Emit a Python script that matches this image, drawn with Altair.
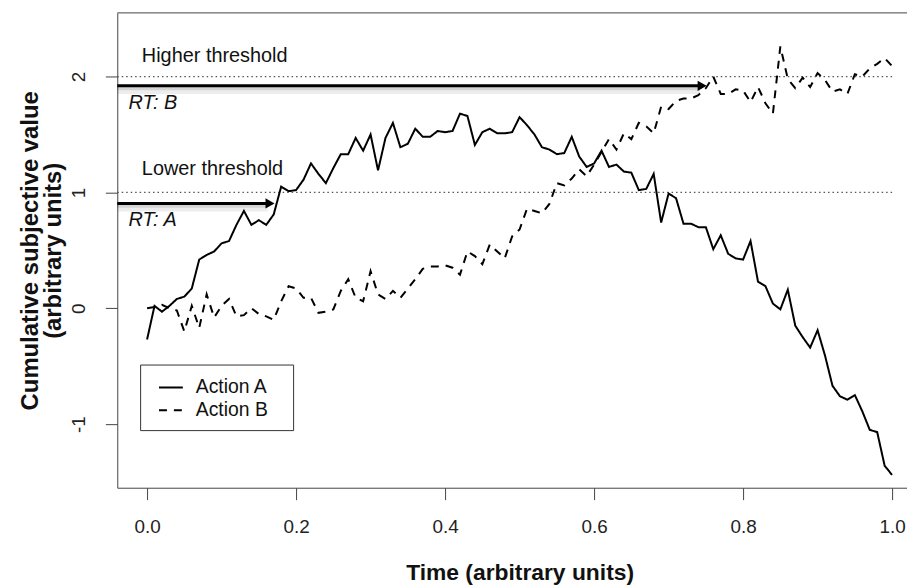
import altair as alt
import pandas as pd

# ---------------- data ----------------
time = [round(i / 100, 2) for i in range(101)]

action_a = [
    -0.27, 0.02, -0.03, 0.02, 0.08, 0.10, 0.17, 0.42, 0.46, 0.49,
    0.56, 0.58, 0.72, 0.84, 0.72, 0.76, 0.72, 0.81, 1.05, 1.01,
    1.02, 1.11, 1.25, 1.16, 1.08, 1.21, 1.33, 1.33, 1.47, 1.36,
    1.50, 1.19, 1.47, 1.60, 1.39, 1.42, 1.55, 1.48, 1.48, 1.53,
    1.52, 1.53, 1.68, 1.66, 1.41, 1.52, 1.55, 1.51, 1.51, 1.52,
    1.65, 1.58, 1.50, 1.39, 1.37, 1.33, 1.34, 1.48, 1.31, 1.22,
    1.25, 1.36, 1.22, 1.24, 1.18, 1.17, 1.02, 1.03, 1.16, 0.74,
    0.99, 0.95, 0.73, 0.73, 0.70, 0.70, 0.51, 0.63, 0.47, 0.43,
    0.42, 0.58, 0.23, 0.19, 0.04, -0.01, 0.16, -0.15, -0.25, -0.34,
    -0.19, -0.41, -0.67, -0.76, -0.79, -0.75, -0.89, -1.05, -1.07, -1.36,
    -1.44,
]

action_b = [
    0.00, 0.01, 0.03, 0.00, -0.02, -0.20, 0.02, -0.17, 0.12, -0.08,
    0.02, 0.08, -0.07, -0.06, 0.00, -0.05, -0.07, -0.10, 0.06, 0.19,
    0.17, 0.09, 0.09, -0.04, -0.03, -0.01, 0.15, 0.25, 0.09, 0.06,
    0.32, 0.12, 0.08, 0.15, 0.09, 0.17, 0.25, 0.34, 0.36, 0.36,
    0.37, 0.35, 0.29, 0.49, 0.45, 0.38, 0.55, 0.49, 0.43, 0.62,
    0.68, 0.86, 0.84, 0.82, 0.90, 1.08, 1.06, 1.12, 1.20, 1.14,
    1.24, 1.35, 1.46, 1.37, 1.51, 1.46, 1.60, 1.57, 1.51, 1.74,
    1.72, 1.79, 1.81, 1.81, 1.84, 1.90, 2.00, 1.85, 1.85, 1.89,
    1.88, 1.78, 1.91, 1.77, 1.68, 2.26, 1.98, 1.90, 1.99, 1.91,
    2.03, 1.97, 1.87, 1.89, 1.85, 2.02, 2.00, 2.07, 2.11, 2.16,
    2.09,
]

series_names = ["Action A", "Action B"]

thresholds = [2, 1]
threshold_labels = ["Higher threshold", "Lower threshold"]
threshold_label_y = [2.18, 1.20]

rt_labels = ["RT: B", "RT: A"]
rt_label_y = [1.77, 0.76]
arrow_y = [1.92, 0.905]
arrow_end = [0.752, 0.172]

x_ticks = [0.0, 0.2, 0.4, 0.6, 0.8, 1.0]
y_ticks = [-1, 0, 1, 2]

# ---------------- layout / style ----------------
X_DOMAIN = [-0.04, 1.02]
Y_DOMAIN = [-1.55, 2.55]
W, H = 795, 478
FONT = "Liberation Sans"
INK = "#111111"
FRAME = "#444444"

lines_df = pd.DataFrame({
    "t": time + time,
    "v": action_a + action_b,
    "series": [series_names[0]] * len(time) + [series_names[1]] * len(time),
})
thr_df = pd.DataFrame({"y": thresholds, "label": threshold_labels,
                       "ly": threshold_label_y, "x0": [X_DOMAIN[0]] * 2, "x1": [1.0, 1.0]})
rt_df = pd.DataFrame({"label": rt_labels, "ly": rt_label_y, "y": arrow_y,
                      "xend": arrow_end, "x0": [X_DOMAIN[0]] * 2})

xs = alt.Scale(domain=X_DOMAIN, nice=False, zero=False)
ys = alt.Scale(domain=Y_DOMAIN, nice=False, zero=False)

x_axis = alt.Axis(
    values=x_ticks, format=".1f", title="Time (arbitrary units)",
    grid=False, domainColor=FRAME, tickColor=FRAME, tickSize=12,
    labelFont=FONT, labelFontSize=19, labelColor="#222222",
    labelPadding=27, labelBaseline="middle",
    titleFont=FONT, titleFontSize=23, titleFontWeight="bold", titleColor=INK,
    titleX=405, titleY=85, titleBaseline="middle",
)
y_axis = alt.Axis(
    values=y_ticks, labelExpr="'' + datum.value",
    title=["Cumulative subjective value", "(arbitrary units)"],
    grid=False, domainColor=FRAME, tickColor=FRAME, tickSize=12,
    labelFont=FONT, labelFontSize=19, labelColor="#222222",
    labelAngle=270, labelAlign="center", labelBaseline="middle", labelPadding=27,
    titleFont=FONT, titleFontSize=24, titleFontWeight="bold", titleColor=INK,
    titleAngle=270, titleAlign="center", titleBaseline="alphabetic",
    titleLineHeight=23, titleX=-80, titleY=H / 2,
)

frame_top = alt.Chart(pd.DataFrame({"k": [0]})).mark_rule(
    color=FRAME, strokeWidth=1
).encode(x=alt.value(0), x2=alt.value(W), y=alt.value(0))

thr_lines = alt.Chart(thr_df).mark_rule(
    color="#555555", strokeWidth=1.2, strokeDash=[1.5, 3]
).encode(
    x=alt.X("x0:Q", scale=xs, axis=x_axis),
    x2="x1:Q",
    y=alt.Y("y:Q", scale=ys, axis=y_axis),
)

thr_text = alt.Chart(thr_df).mark_text(
    align="left", baseline="middle", font=FONT, fontSize=20, color=INK
).encode(x=alt.datum(-0.007), y="ly:Q", text="label:N")

shadow1 = alt.Chart(rt_df).transform_calculate(
    ys="datum.y - 0.035", xe="datum.xend - 0.01"
).mark_rule(color="#000000", opacity=0.07, strokeWidth=8).encode(
    x="x0:Q", x2="xe:Q", y="ys:Q")
shadow2 = alt.Chart(rt_df).transform_calculate(
    ys="datum.y - 0.02", xe="datum.xend - 0.01"
).mark_rule(color="#000000", opacity=0.10, strokeWidth=4).encode(
    x="x0:Q", x2="xe:Q", y="ys:Q")

arrow_shaft = alt.Chart(rt_df).transform_calculate(
    xe="datum.xend - 0.012"
).mark_rule(color="#000000", strokeWidth=3).encode(
    x="x0:Q", x2="xe:Q", y="y:Q")

arrow_head = alt.Chart(rt_df).transform_calculate(
    xh="datum.xend - 0.007"
).mark_point(shape="triangle-right", filled=True, color="#000000",
             size=110, opacity=1).encode(x="xh:Q", y="y:Q")

rt_text = alt.Chart(rt_df).mark_text(
    align="left", baseline="middle", font=FONT, fontSize=20,
    fontStyle="italic", color=INK
).encode(x=alt.datum(-0.025), y="ly:Q", text="label:N")

lines = alt.Chart(lines_df).mark_line(
    color="#000000", strokeWidth=2, strokeCap="butt", strokeJoin="miter"
).encode(
    x="t:Q",
    y="v:Q",
    strokeDash=alt.StrokeDash(
        "series:N",
        scale=alt.Scale(domain=series_names, range=[[1, 0], [8, 7]]),
        legend=alt.Legend(
            title=None, orient="none", legendX=23, legendY=354,
            fillColor="#ffffff", strokeColor="#333333", padding=10,
            symbolType="stroke", symbolSize=576, symbolStrokeWidth=2,
            symbolStrokeColor="#000000", symbolOffset=8, labelOffset=12,
            labelFont=FONT, labelFontSize=19.5, labelColor=INK,
            rowPadding=-4,
            labelExpr="datum.label + '\u2800'",
        ),
    ),
)

chart = alt.layer(
    frame_top, thr_lines, thr_text, shadow1, shadow2, arrow_shaft,
    arrow_head, rt_text, lines
).properties(
    width=W, height=H,
    autosize=alt.AutoSizeParams(type="none"),
    padding={"left": 110, "top": 3, "right": 0, "bottom": 96},
    background="#ffffff",
).configure_view(strokeWidth=0)

chart.save("out.html", embed_options={"renderer": "svg", "actions": False})
